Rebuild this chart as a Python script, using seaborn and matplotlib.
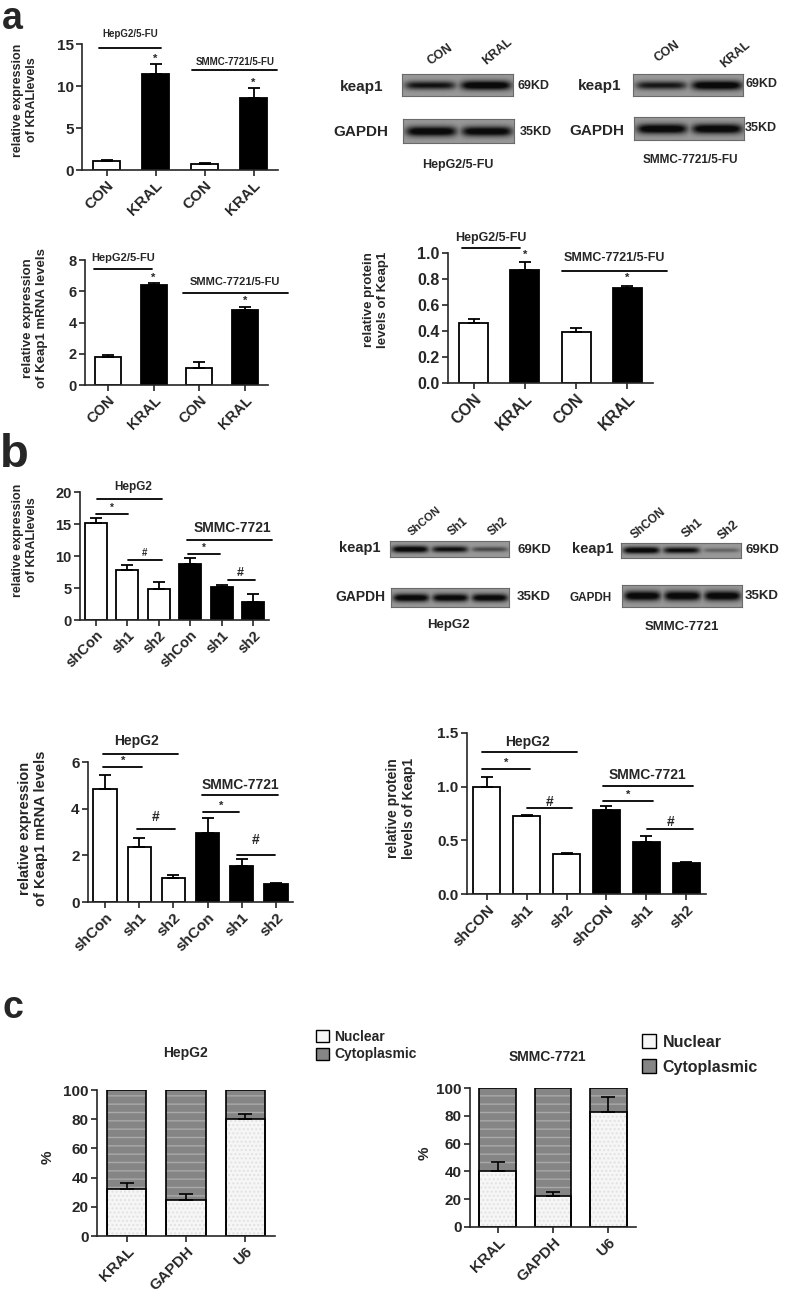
import numpy as np
import pandas as pd
import matplotlib
matplotlib.use('Agg')
import matplotlib.pyplot as plt
import seaborn as sns
from matplotlib.patches import Patch

# ---- data ----
# a: 5-FU resistant cells, CON vs KRAL
a_labels = ['CON', 'KRAL', 'CON', 'KRAL']
a_kral = [1.1, 11.4, 0.7, 8.6]
a_kral_err = [0.1, 1.2, 0.1, 1.2]
a_keap1_mrna = [1.8, 6.4, 1.1, 4.8]
a_keap1_mrna_err = [0.1, 0.1, 0.35, 0.2]
a_keap1_prot = [0.46, 0.87, 0.39, 0.73]
a_keap1_prot_err = [0.03, 0.06, 0.03, 0.02]

# b: shRNA knockdown
b_labels_mrna = ['shCon', 'sh1', 'sh2', 'shCon', 'sh1', 'sh2']
b_labels_prot = ['shCON', 'sh1', 'sh2', 'shCON', 'sh1', 'sh2']
b_kral = [15.1, 7.8, 4.8, 8.8, 5.1, 2.8]
b_kral_err = [0.8, 0.8, 1.2, 0.9, 0.3, 1.3]
b_keap1_mrna = [4.85, 2.35, 1.03, 2.96, 1.55, 0.77]
b_keap1_mrna_err = [0.6, 0.4, 0.13, 0.64, 0.3, 0.05]
b_keap1_prot = [1.0, 0.73, 0.37, 0.78, 0.48, 0.29]
b_keap1_prot_err = [0.09, 0.01, 0.015, 0.04, 0.06, 0.01]

# c: nuclear / cytoplasmic fractions (%)
c_labels = ['KRAL', 'GAPDH', 'U6']
c_hepg2_nuclear = [32, 24.5, 80]
c_hepg2_cyto = [68, 75.5, 20]
c_hepg2_err = [4, 4, 3.5]
c_smmc_nuclear = [40.5, 22.5, 82.5]
c_smmc_cyto = [59.5, 77.5, 17.5]
c_smmc_err = [6.5, 2.5, 11]

# western blot band strengths (0 = nothing, 1 = saturated)
wb_a_hepg2 = {'keap1': [0.75, 0.95], 'GAPDH': [0.92, 0.9]}
wb_a_smmc = {'keap1': [0.72, 0.95], 'GAPDH': [0.95, 0.95]}
wb_b_hepg2 = {'keap1': [0.92, 0.78, 0.45], 'GAPDH': [0.92, 0.9, 0.9]}
wb_b_smmc = {'keap1': [0.92, 0.8, 0.3], 'GAPDH': [0.93, 0.93, 0.93]}

sns.set_style('ticks')
plt.rcParams['font.family'] = ['Liberation Sans', 'DejaVu Sans']
plt.rcParams['font.weight'] = 'bold'
plt.rcParams['axes.linewidth'] = 1.2
plt.rcParams['hatch.linewidth'] = 1.0

W, H = 787, 1309
fig = plt.figure(figsize=(W / 100, H / 100), dpi=100)


def axes_px(x0, x1, ytop, ybot):
    return fig.add_axes([x0 / W, 1 - ybot / H, (x1 - x0) / W, (ybot - ytop) / H])


def ftext(px, py, s, **kw):
    kw.setdefault('ha', 'center')
    kw.setdefault('va', 'center')
    kw.setdefault('fontweight', 'bold')
    fig.text(px / W, 1 - py / H, s, **kw)


def bar_panel(box, labels, vals, errs, colors, ymax, yticks, width, fs_tick):
    ax = axes_px(*box)
    n = len(vals)
    df = pd.DataFrame({'pos': [str(i) for i in range(n)], 'val': vals})
    pal = {str(i): c for i, c in enumerate(colors)}
    sns.barplot(data=df, x='pos', y='val', hue='pos', palette=pal, width=width,
                edgecolor='black', linewidth=1.3, saturation=1, legend=False,
                errorbar=None, ax=ax)
    ax.errorbar(range(n), vals, yerr=[np.zeros(n), errs], fmt='none',
                ecolor='black', elinewidth=1.3, capsize=4, capthick=1.3)
    ax.set_xlim(-0.5, n - 0.5)
    ax.set_ylim(0, ymax)
    ax.set_yticks(yticks)
    ax.set_xticks(range(n))
    ax.set_xticklabels(labels, rotation=45, ha='right', rotation_mode='anchor')
    ax.set_xlabel('')
    ax.set_ylabel('')
    ax.tick_params(axis='both', direction='out', length=4, width=1.2,
                   labelsize=fs_tick, pad=2)
    sns.despine(ax=ax)
    return ax


def line(ax, x0, x1, y, lw=1.3):
    ax.plot([x0, x1], [y, y], color='black', lw=lw, clip_on=False)


def note(ax, x, y, s, fs=8):
    ax.text(x, y, s, ha='center', va='center', fontsize=fs, fontweight='bold', clip_on=False)


def blot(box, strengths):
    ax = axes_px(*box)
    n = len(strengths)
    h, w = 30, 40 * n
    yy, xx = np.mgrid[0:h, 0:w]
    dark = np.zeros((h, w))
    for i, s in enumerate(strengths):
        cx = (i + 0.5) * w / n
        hw = 0.43 * w / n
        hprof = 1 / (1 + np.exp((np.abs(xx - cx) - hw) / 2.0))
        sig = h * 0.2 * (0.5 + 0.6 * s)
        vprof = np.exp(-((yy - h / 2) / sig) ** 2)
        dark = np.maximum(dark, s * hprof * vprof)
    img = 0.6 - 0.56 * np.clip(dark * 1.3, 0, 1)
    ax.imshow(img, cmap='gray', vmin=0, vmax=1, aspect='auto', interpolation='bilinear')
    ax.set_xticks([])
    ax.set_yticks([])
    for sp in ax.spines.values():
        sp.set_color('#6a6a6a')
        sp.set_linewidth(0.8)
    return ax


WHITE, BLACK = 'white', 'black'

# ---------------- panel a ----------------
ftext(2, 1, 'a', fontsize=27, ha='left', va='top')

ax = bar_panel((82, 278, 44, 170), a_labels, a_kral, a_kral_err,
               [WHITE, BLACK, WHITE, BLACK], 15, [0, 5, 10, 15], 0.55, 11)
line(ax, -0.15, 1.11, 14.5)
note(ax, 0.48, 16.2, 'HepG2/5-FU', 7)
line(ax, 1.74, 3.48, 11.9)
note(ax, 2.62, 12.8, 'SMMC-7721/5-FU', 7)
note(ax, 1, 13.2, '*', 8)
note(ax, 3, 10.4, '*', 8)
ftext(25, 100, 'relative expression\nof KRALlevels', rotation=90, fontsize=9)

ax = bar_panel((85, 268, 260, 385), a_labels, a_keap1_mrna, a_keap1_mrna_err,
               [WHITE, BLACK, WHITE, BLACK], 8, [0, 2, 4, 6, 8], 0.57, 10.5)
line(ax, -0.3, 0.96, 7.42)
note(ax, 0.33, 8.15, 'HepG2/5-FU', 8)
line(ax, 1.64, 3.94, 5.9)
note(ax, 2.78, 6.6, 'SMMC-7721/5-FU', 8)
note(ax, 1, 6.85, '*', 8)
note(ax, 3, 5.4, '*', 8)
ftext(35, 318, 'relative expression\nof Keap1 mRNA levels', rotation=90, fontsize=9.5)

ax = bar_panel((448, 653, 253, 383), a_labels, a_keap1_prot, a_keap1_prot_err,
               [WHITE, BLACK, WHITE, BLACK], 1.0, [0.0, 0.2, 0.4, 0.6, 0.8, 1.0], 0.57, 11.5)
ax.set_yticklabels(['0.0', '0.2', '0.4', '0.6', '0.8', '1.0'])
line(ax, -0.23, 0.9, 1.04)
note(ax, 0.34, 1.115, 'HepG2/5-FU', 9)
line(ax, 1.72, 3.77, 0.86)
note(ax, 2.74, 0.96, 'SMMC-7721/5-FU', 9)
note(ax, 1, 0.985, '*', 8)
note(ax, 3, 0.81, '*', 8)
ftext(376, 300, 'relative protein\nlevels of Keap1', rotation=90, fontsize=9.5)

# blots a
blot((402, 513, 74, 96), wb_a_hepg2['keap1'])
blot((403, 514, 119, 143), wb_a_hepg2['GAPDH'])
blot((633, 743, 74, 96), wb_a_smmc['keap1'])
blot((634, 744, 117, 140), wb_a_smmc['GAPDH'])
ftext(362, 87, 'keap1', fontsize=11)
ftext(361, 132, 'GAPDH', fontsize=11)
ftext(518, 86, '69KD', fontsize=9, ha='left')
ftext(520, 132, '35KD', fontsize=9, ha='left')
ftext(600, 86, 'keap1', fontsize=11)
ftext(597, 131, 'GAPDH', fontsize=11)
ftext(745, 84, '69KD', fontsize=9, ha='left')
ftext(745, 128, '35KD', fontsize=9, ha='left')
ftext(440, 55, 'CON', fontsize=9, rotation=35)
ftext(497, 52, 'KRAL', fontsize=9, rotation=40)
ftext(667, 52, 'CON', fontsize=9, rotation=35)
ftext(735, 55, 'KRAL', fontsize=9, rotation=40)
ftext(458, 165, 'HepG2/5-FU', fontsize=9)
ftext(690, 160, 'SMMC-7721/5-FU', fontsize=8.5)

# ---------------- panel b ----------------
ftext(0, 467, 'b', fontsize=34, ha='left', va='baseline')

ax = bar_panel((80, 269, 492, 620), b_labels_mrna, b_kral, b_kral_err,
               [WHITE] * 3 + [BLACK] * 3, 20, [0, 5, 10, 15, 20], 0.7, 10.5)
note(ax, 1.18, 20.8, 'HepG2', 8.5)
line(ax, 0.04, 2.1, 18.9)
line(ax, 0.01, 1.02, 16.6)
note(ax, 0.52, 17.5, '*', 7)
line(ax, 1.02, 2.1, 9.4)
note(ax, 1.56, 10.5, '#', 7)
note(ax, 4.33, 14.4, 'SMMC-7721', 10)
line(ax, 2.9, 5.6, 12.5)
line(ax, 2.93, 3.94, 10.3)
note(ax, 3.44, 11.25, '*', 7)
line(ax, 4.2, 5.06, 6.25)
note(ax, 4.6, 7.3, '#', 9)
ftext(25, 540, 'relative expression\nof KRALlevels', rotation=90, fontsize=9)

ax = bar_panel((88, 293, 762, 902), b_labels_mrna, b_keap1_mrna, b_keap1_mrna_err,
               [WHITE] * 3 + [BLACK] * 3, 6, [0, 2, 4, 6], 0.68, 11)
note(ax, 0.93, 6.9, 'HepG2', 10)
line(ax, -0.06, 2.13, 6.34)
line(ax, -0.06, 1.08, 5.79)
note(ax, 0.52, 6.04, '*', 8)
line(ax, 0.93, 2.05, 3.13)
note(ax, 1.49, 3.64, '#', 10)
note(ax, 3.95, 5.01, 'SMMC-7721', 10)
line(ax, 2.84, 5.06, 4.59)
line(ax, 2.87, 3.92, 3.86)
note(ax, 3.39, 4.11, '*', 8)
line(ax, 3.86, 4.97, 2.01)
note(ax, 4.42, 2.66, '#', 10)
ftext(33, 828, 'relative expression\nof Keap1 mRNA levels', rotation=90, fontsize=10.5)

ax = bar_panel((467, 706, 733, 894), b_labels_prot, b_keap1_prot, b_keap1_prot_err,
               [WHITE] * 3 + [BLACK] * 3, 1.5, [0.0, 0.5, 1.0, 1.5], 0.68, 11)
ax.set_yticklabels(['0.0', '0.5', '1.0', '1.5'])
note(ax, 1.01, 1.417, 'HepG2', 10)
line(ax, -0.12, 2.26, 1.32)
line(ax, -0.12, 1.08, 1.16)
note(ax, 0.48, 1.22, '*', 8)
line(ax, 1.01, 2.14, 0.80)
note(ax, 1.58, 0.86, '#', 10)
note(ax, 4.02, 1.11, 'SMMC-7721', 10)
line(ax, 2.91, 5.17, 1.01)
line(ax, 2.91, 4.17, 0.867)
note(ax, 3.54, 0.92, '*', 8)
line(ax, 4.02, 5.17, 0.606)
note(ax, 4.6, 0.67, '#', 10)
ftext(401, 808, 'relative protein\nlevels of Keap1', rotation=90, fontsize=10)

# blots b
blot((390, 509, 541, 557), wb_b_hepg2['keap1'])
blot((391, 509, 588, 607), wb_b_hepg2['GAPDH'])
blot((621, 741, 543, 558), wb_b_smmc['keap1'])
blot((622, 742, 585, 607), wb_b_smmc['GAPDH'])
ftext(360, 548, 'keap1', fontsize=10.5)
ftext(360, 597, 'GAPDH', fontsize=10)
ftext(517, 550, '69KD', fontsize=9.5, ha='left')
ftext(517, 597, '35KD', fontsize=9.5, ha='left')
ftext(593, 549, 'keap1', fontsize=10.5)
ftext(591, 598, 'GAPDH', fontsize=8.5)
ftext(745, 550, '69KD', fontsize=9.5, ha='left')
ftext(745, 596, '35KD', fontsize=9.5, ha='left')
ftext(425, 521, 'ShCON', fontsize=8, rotation=40)
ftext(458, 527, 'Sh1', fontsize=8.5, rotation=40)
ftext(498, 527, 'Sh2', fontsize=8.5, rotation=40)
ftext(648, 523, 'ShCON', fontsize=8.5, rotation=40)
ftext(693, 528, 'Sh1', fontsize=9, rotation=40)
ftext(728, 530, 'Sh2', fontsize=9, rotation=40)
ftext(448, 625, 'HepG2', fontsize=9.5)
ftext(682, 627, 'SMMC-7721', fontsize=9.5)

# ---------------- panel c ----------------
ftext(2, 1018, 'c', fontsize=27, ha='left', va='baseline')

NUC, CYT = '#f6f6f6', '#858585'


def frac_panel(box, title, nuc, cyto, err, title_xy, leg_xy, leg_fs, leg_sp, pct_xy):
    ax = axes_px(*box)
    df = pd.DataFrame({'gene': c_labels, 'nuc': nuc, 'cyto': cyto})
    df['total'] = df['nuc'] + df['cyto']
    # filled, textured layers
    sns.barplot(data=df, x='gene', y='total', color=CYT, width=0.66, saturation=1,
                edgecolor='#a9a9a9', linewidth=0, errorbar=None, ax=ax)
    for p in ax.patches:
        p.set_hatch('--')
    n_cyt = len(ax.patches)
    sns.barplot(data=df, x='gene', y='nuc', color=NUC, width=0.66, saturation=1,
                edgecolor='#e2e2e2', linewidth=0, errorbar=None, ax=ax)
    for p in ax.patches[n_cyt:]:
        p.set_hatch('....')
    # outlines
    sns.barplot(data=df, x='gene', y='total', color='black', fill=False, width=0.66,
                linewidth=1.2, errorbar=None, ax=ax)
    sns.barplot(data=df, x='gene', y='nuc', color='black', fill=False, width=0.66,
                linewidth=1.2, errorbar=None, ax=ax)
    ax.errorbar(range(3), nuc, yerr=[np.zeros(3), err], fmt='none', ecolor='black',
                elinewidth=1.2, capsize=5, capthick=1.2)
    ax.set_xlim(-0.5, 2.5)
    ax.set_ylim(0, 100)
    ax.set_yticks([0, 20, 40, 60, 80, 100])
    ax.set_xticks(range(3))
    ax.set_xticklabels(c_labels, rotation=45, ha='right', rotation_mode='anchor')
    ax.set_xlabel('')
    ax.set_ylabel('')
    ax.tick_params(axis='both', direction='out', length=4, width=1.2, labelsize=11, pad=2)
    sns.despine(ax=ax)
    ftext(title_xy[0], title_xy[1], title, fontsize=10)
    ftext(pct_xy[0], pct_xy[1], '%', fontsize=11, rotation=90)
    handles = [Patch(facecolor=NUC, edgecolor='black', linewidth=1),
               Patch(facecolor=CYT, edgecolor='black', linewidth=1)]
    fig.legend(handles, ['Nuclear', 'Cytoplasmic'], loc='upper left',
               bbox_to_anchor=(leg_xy[0] / W, 1 - leg_xy[1] / H), frameon=False,
               fontsize=leg_fs, handlelength=0.9, handleheight=1.0,
               handletextpad=0.4, labelspacing=leg_sp, borderaxespad=0, borderpad=0)
    return ax


frac_panel((97, 275, 1090, 1236), 'HepG2', c_hepg2_nuclear, c_hepg2_cyto, c_hepg2_err,
           (185, 1053), (316, 1030), 10, 0.25, (48, 1157))
frac_panel((470, 636, 1088, 1227), 'SMMC-7721', c_smmc_nuclear, c_smmc_cyto, c_smmc_err,
           (547, 1057), (642, 1034), 11.5, 0.6, (425, 1153))

plt.savefig('out.png', dpi=100)
